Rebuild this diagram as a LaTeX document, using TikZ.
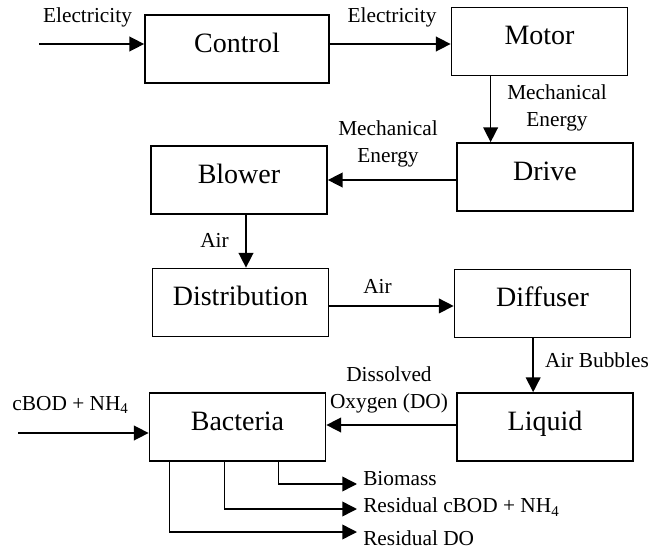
\documentclass[tikz,border=0pt]{standalone}
\usepackage{fontspec}
\setmainfont{Liberation Serif}
\usetikzlibrary{positioning,arrows.meta}

\begin{document}
\begin{tikzpicture}[x=0.75pt,y=-0.75pt,
  unit/.style={draw,line width=1.3pt,minimum width=132pt,minimum height=51pt,inner sep=0pt,
    font=\fontsize{21}{25}\selectfont,text height=14pt,text depth=9.5pt},
  flow/.style={line width=1.1pt,-{Triangle[length=11pt,width=11pt]}},
  tag/.style={font=\fontsize{16}{20}\selectfont,align=center,inner sep=0pt}]
  \useasboundingbox (0,0) rectangle (651,550);

  \node[unit,minimum width=138pt] (control) at (237,49) {Control};
  \node[unit] (motor) at (539.5,41.5) {Motor};
  \node[unit] (drive) at (545,177) {Drive};
  \node[unit] (blower) at (239,180) {Blower};
  \node[unit] (distribution) at (240.5,302.5) {Distribution};
  \node[unit] (diffuser) at (542.5,303.5) {Diffuser};
  \node[unit] (liquid) at (545,427) {Liquid};
  \node[unit] (bacteria) at (237.5,427) {Bacteria};

  \coordinate (power) at (39,44);
  \coordinate (feed) at (18,433);
  \coordinate (biomass) at (357,484);
  \coordinate (residual) at (357,509);
  \coordinate (leftover) at (357,532);

  \draw[flow] (power) -- (power -| control.west);
  \draw[flow] (power -| control.east) -- (power -| motor.west);
  \draw[flow] ([xshift=30pt]motor.south west) -- ([xshift=30pt]motor.south west |- drive.north);
  \draw[flow] (drive.west |- blower.east) -- (blower.east);
  \draw[flow] ([xshift=5.25pt]blower.south) -- ([xshift=5.25pt]blower.south |- distribution.north);
  \draw[flow] ([yshift=-2.6pt]distribution.east) -- ([yshift=-2.6pt]distribution.east -| diffuser.west);
  \draw[flow] ([xshift=-7pt]diffuser.south) -- ([xshift=-7pt]diffuser.south |- liquid.north);
  \draw[flow] ([yshift=1.5pt]liquid.west) -- ([yshift=1.5pt]liquid.west -| bacteria.east);
  \draw[flow] (feed) -- (feed -| bacteria.west);
  \draw[flow] ([xshift=97.5pt]bacteria.south west) |- (biomass);
  \draw[flow] ([xshift=57pt]bacteria.south west) |- (residual);
  \draw[flow] ([xshift=15.75pt]bacteria.south west) |- (leftover);

  \node[tag] (elec1) at (87.5,17) {Electricity};
  \node[tag] (elec2) at (392,17) {Electricity};
  \node[tag] (mech1) at (557,108) {Mechanical\\Energy};
  \node[tag] (mech2) at (388,144) {Mechanical\\Energy};
  \node[tag] (air1) at (214.5,240) {Air};
  \node[tag] (air2) at (377.5,286) {Air};
  \node[tag] (bubbles) at (597,360) {Air Bubbles};
  \node[tag] (dissolved) at (389,390) {Dissolved\\Oxygen (DO)};
  \node[tag] (load) at (70.5,405) {cBOD + NH\textsubscript{4}};
  \node[tag,anchor=west] (biolabel) at ([xshift=4.5pt,yshift=4pt]biomass) {Biomass};
  \node[tag,anchor=west] (reslabel) at ([xshift=4.5pt,yshift=1.5pt]residual) {Residual cBOD + NH\textsubscript{4}};
  \node[tag,anchor=west] (dolabel) at ([xshift=4.5pt,yshift=-5pt]leftover) {Residual DO};
\end{tikzpicture}
\end{document}
